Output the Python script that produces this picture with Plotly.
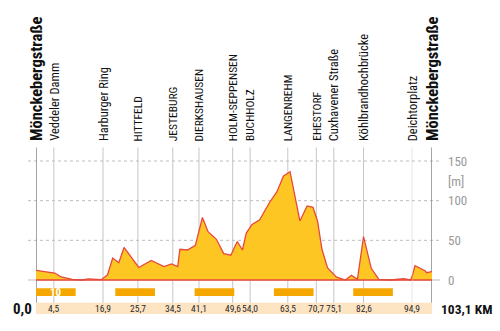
import plotly.graph_objects as go

# ---------------- data ----------------
stations = ["Mönckebergstraße", "Veddeler Damm", "Harburger Ring", "HITTFELD", "JESTEBURG",
            "DIERKSHAUSEN", "HOLM-SEPPENSEN", "BUCHHOLZ", "LANGENREHM", "EHESTORF",
            "Cuxhavener Straße", "Köhlbrandhochbrücke", "Deichtorplatz", "Mönckebergstraße"]
station_km = [0.0, 4.5, 16.9, 25.7, 34.5, 41.1, 49.6, 54.0, 63.5, 70.7, 75.1, 82.6, 94.9, 103.1]
km_labels = ["0,0", "4,5", "16,9", "25,7", "34,5", "41,1", "49,6", "54,0", "63,5", "70,7",
             "75,1", "82,6", "94,9", "103,1 KM"]

profile_km = [0.0, 2.5, 4.74, 6.36, 9.16, 11.58, 13.2, 16.42, 18.02, 19.34, 20.88, 22.2,
              25.92, 29.06, 32.26, 34.16, 35.74, 36.29, 38.21, 40.19, 41.97, 43.39, 45.5,
              47.34, 49.13, 50.76, 52.06, 53.03, 54.49, 56.41, 58.85, 60.77, 62.42, 64.07,
              66.55, 68.37, 69.86, 71.04, 72.11, 73.54, 75.72, 78.01, 79.55, 81.06, 82.6,
              84.55, 86.47, 89.38, 92.78, 94.44, 96.02, 100.19, 100.89, 102.97, 103.1]
profile_m = [12.2, 10.1, 8.8, 3.8, 0.9, 0.0, 1.3, 0.4, 6.3, 27.7, 21.7, 41.0,
             15.8, 24.6, 17.0, 20.2, 16.8, 38.7, 37.8, 43.7, 78.8, 60.9, 51.3,
             33.2, 31.3, 48.5, 37.8, 59.2, 70.0, 76.0, 97.4, 111.3, 131.1, 136.5,
             74.4, 93.3, 91.6, 73.5, 38.7, 15.1, 3.8, 0.0, 5.9, 0.9, 54.6,
             14.7, 0.9, 0.0, 1.6, 0.0, 18.0, 11.7, 9.2, 10.5, 10.5]

ten_km_starts = [0, 20, 40, 60, 80]
ten_km_text = ["10", "", "", "", ""]
y_ticks = [0, 50, 100, 150]
y_unit = "[m]"

BREAK_KM = 94.9      # last segment is drawn compressed in the original
TOTAL_KM = 103.1

# ---------------- style ----------------
FONT = "Roboto Condensed, Liberation Sans Narrow, DejaVu Sans Condensed, sans-serif"
FILL = "#FDC623"
RED = "#E8483C"
ORANGE = "#F5A700"
BAND = "#FDE4C2"
GRID = "#BDBDBD"

W, H = 500, 331
def px_x(p):
    return p / W
def px_y(p):
    return 1 - p / H

def xr(k):
    return "x" if k <= BREAK_KM else "x2"

fig = go.Figure()
for xa in ["x", "x2"]:
    fig.add_trace(go.Scatter(x=profile_km, y=profile_m, xaxis=xa, yaxis="y",
                             mode="lines", fill="tozeroy", fillcolor=FILL,
                             line=dict(color=RED, width=1.3), hoverinfo="skip",
                             showlegend=False))

shapes = []
# horizontal grid
for v in y_ticks:
    shapes.append(dict(type="line", xref="paper", yref="y", x0=px_x(28), x1=px_x(440),
                       y0=v, y1=v, layer="below",
                       line=dict(color=GRID, width=1, dash="solid" if v == 0 else "3px,3px")))
# station lines
for i, k in enumerate(station_km):
    end = i in (0, len(station_km) - 1)
    shapes.append(dict(type="line", xref=xr(k), yref="y", x0=k, x1=k, y0=-29, y1=167,
                       layer="below",
                       line=dict(color="#8F8F8F" if end else "#C6C6C6", width=1.6 if end else 1)))
# 10 km bars
for s in ten_km_starts:
    shapes.append(dict(type="rect", xref="x", yref="y", x0=s, x1=s + 10, y0=-20.2, y1=-10.5,
                       fillcolor=ORANGE, line=dict(width=0), layer="above"))
# km band and red base line
for xa, a, b in [("x", 0, BREAK_KM), ("x2", BREAK_KM, TOTAL_KM)]:
    shapes.append(dict(type="rect", xref=xa, yref="y", x0=a, x1=b, y0=-42.9, y1=-28.6,
                       fillcolor=BAND, line=dict(width=0), layer="above"))
    shapes.append(dict(type="line", xref=xa, yref="y", x0=a, x1=b, y0=0, y1=0,
                       line=dict(color=RED, width=1.3), layer="above"))

ann = []
for i, (name, k) in enumerate(zip(stations, station_km)):
    end = i in (0, len(station_km) - 1)
    if end:
        f = dict(family=FONT, size=16.5, color="#111111", weight="bold")
    elif name.isupper():
        f = dict(family=FONT, size=11.5, color="#111111")
    else:
        f = dict(family=FONT, size=12.5, color="#111111")
    ann.append(dict(text=name, textangle=-90, xref=xr(k), x=k, yref="paper", y=px_y(142),
                    xanchor="center", yanchor="bottom", showarrow=False, font=f, borderpad=0))
# km labels in band
for i, (lab, k) in enumerate(zip(km_labels, station_km)):
    if i == 0:
        ann.append(dict(text=lab, xref="paper", x=px_x(34), yref="paper", y=px_y(308.5),
                        xanchor="right", yanchor="middle", showarrow=False,
                        font=dict(family=FONT, size=15, color="#111111", weight="bold")))
    elif i == len(km_labels) - 1:
        ann.append(dict(text=lab, xref="paper", x=px_x(439), yref="paper", y=px_y(308.5),
                        xanchor="left", yanchor="middle", showarrow=False,
                        font=dict(family=FONT, size=13.5, color="#111111", weight="bold")))
    else:
        ann.append(dict(text=lab, xref=xr(k), x=k, yref="paper", y=px_y(308.5),
                        xanchor="center", yanchor="middle", showarrow=False,
                        font=dict(family=FONT, size=9.5, color="#2a2a2a")))
# y tick labels
for v in y_ticks:
    ann.append(dict(text=str(v), xref="paper", x=px_x(446), yref="y", y=v,
                    xanchor="left", yanchor="middle", showarrow=False,
                    font=dict(family=FONT, size=13, color="#9A9A9A")))
ann.append(dict(text=y_unit, xref="paper", x=px_x(446), yref="y", y=124,
                xanchor="left", yanchor="middle", showarrow=False,
                font=dict(family=FONT, size=13, color="#9A9A9A")))
# bar label
for s, t in zip(ten_km_starts, ten_km_text):
    if t:
        ann.append(dict(text=t, xref="x", x=s + 5, yref="y", y=-15.35,
                        xanchor="center", yanchor="middle", showarrow=False,
                        font=dict(family=FONT, size=11, color="white", weight="bold")))

x_main_end = 412.3
fig.update_layout(
    width=W, height=H, autosize=False,
    margin=dict(l=0, r=0, t=0, b=0, pad=0),
    paper_bgcolor="white", plot_bgcolor="rgba(0,0,0,0)",
    xaxis=dict(domain=[px_x(36), px_x(x_main_end)], range=[0, BREAK_KM], visible=False,
               fixedrange=True),
    xaxis2=dict(domain=[px_x(x_main_end), px_x(432)], range=[BREAK_KM, TOTAL_KM], visible=False,
                anchor="y", fixedrange=True),
    yaxis=dict(domain=[0, 1], range=[-64.29, 352.96], visible=False, fixedrange=True),
    shapes=shapes, annotations=ann, showlegend=False,
)

fig.write_html("out.html", config={"displayModeBar": False})
